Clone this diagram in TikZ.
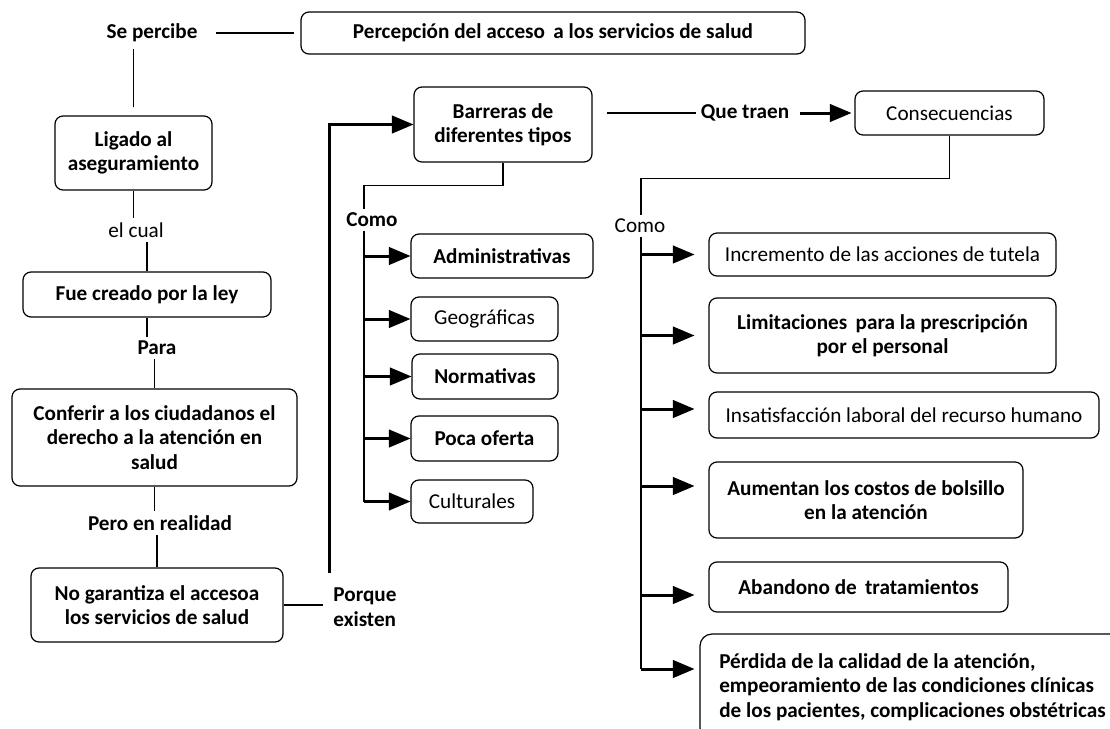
\documentclass[tikz,border=0pt]{standalone}
\usepackage{fontspec}
\setmainfont{Carlito}
\usetikzlibrary{arrows}

\begin{document}
\begin{tikzpicture}[x=0.5pt,y=-0.5pt,
  rg/.style={font=\fontsize{10.6}{12.2}\selectfont},
  bf/.style={font=\fontsize{10.6}{12.2}\selectfont\bfseries},
  box/.style={draw,rounded corners=4pt,align=center,inner sep=2pt,line width=0.6pt},
  lbl/.style={inner sep=2pt,align=left},
  ln/.style={line width=0.8pt},
  arr/.style={-triangle 45,line width=1.5pt}]
  \useasboundingbox (0,0) rectangle (1110,729);
  \clip (0,0) rectangle (1110,729);

  % left column
  \node[lbl,bf] (sep) at (152,33) {Se percibe};
  \node[box,bf,minimum width=252pt,minimum height=21pt] (perc) at (553,33) {Percepción del acceso\, a los servicios de salud};
  \node[box,bf,minimum width=78.5pt,minimum height=37pt] (lig) at (133.5,153) {Ligado al\\aseguramiento};
  \node[lbl,rg] (elc) at (136,230) {el cual};
  \node[box,bf,minimum width=124pt,minimum height=22.5pt] (fue) at (147,294.5) {Fue creado por la ley};
  \node[lbl,bf] (para) at (157,348) {Para};
  \node[box,bf,minimum width=142.5pt,minimum height=48.5pt] (conf) at (154.5,437.5) {Conferir a los ciudadanos el\\derecho a la atención en\\salud};
  \node[lbl,bf] (pero) at (160,523) {Pero en realidad};
  \node[box,bf,minimum width=126pt,minimum height=37pt] (nog) at (157,605) {No garantiza el accesoa\\los servicios de salud};
  \node[lbl,bf] (porq) at (365,607) {Porque\\existen};

  \draw[ln,shorten <=7pt,shorten >=3pt] (sep) -- (perc);
  \draw[ln,shorten <=4pt,shorten >=1pt] (lig.north) -- (lig.north |- sep.south);
  \draw[ln] (lig.south) -- (lig.south |- elc.north);
  \draw[ln] (fue.north) -- (fue.north |- elc.south);
  \draw[ln] (fue.south) -- (fue.south |- para.north);
  \draw[ln] (conf.north) -- (conf.north |- para.south);
  \draw[ln] (conf.south) -- (conf.south |- pero.north);
  \draw[ln] (nog.north) -- (nog.north |- pero.south);
  \draw[ln,shorten >=3pt] (nog.east) -- (nog.east -| porq.west);

  % barreras
  \node[box,bf,minimum width=89pt,minimum height=37.5pt] (barr) at (503,124.5) {Barreras de\\diferentes tipos};
  \node[lbl,bf] (como1) at (372,220) {Como};
  \coordinate (trunkA) at (364,0);
  \node[box,bf,minimum width=91pt,minimum height=22pt] (adm) at (502,256) {Administrativas};
  \node[box,rg,minimum width=73.5pt,minimum height=22pt] (geo) at (484.5,319) {Geográficas};
  \node[box,bf,minimum width=73pt,minimum height=22.5pt] (nor) at (485,376.5) {Normativas};
  \node[box,bf,minimum width=73.5pt,minimum height=22.5pt] (poc) at (484.5,438.5) {Poca oferta};
  \node[box,rg,minimum width=61pt,minimum height=21.5pt] (cul) at (472,501.5) {Culturales};

  \draw[arr,shorten <=5pt] (porq.north west) |- (barr);
  \draw[ln] (barr.south) -- ++(0,23) -| (trunkA |- como1.north);
  \draw[ln] (trunkA |- como1.south) -- (trunkA |- cul.west);
  \draw[arr] (trunkA |- adm.west) -- (adm.west);
  \draw[arr] (trunkA |- geo.west) -- (geo.west);
  \draw[arr] (trunkA |- nor.west) -- (nor.west);
  \draw[arr] (trunkA |- poc.west) -- (poc.west);
  \draw[arr] (trunkA |- cul.west) -- (cul.west);

  % consecuencias
  \node[lbl,bf] (que) at (745,113) {Que traen};
  \node[box,rg,minimum width=94.5pt,minimum height=22pt] (cons) at (949.5,113) {Consecuencias};
  \draw[ln,shorten <=7pt] (barr.east |- que) -- (que);
  \draw[arr,shorten <=3pt,shorten >=1.5pt] (que) -- (cons);

  \node[lbl,rg] (como2) at (640,226) {Como};
  \coordinate (trunkB) at (641,0);
  \node[box,rg,minimum width=173.5pt,minimum height=21.5pt] (inc) at (882.5,254.5) {Incremento de las acciones de tutela};
  \node[box,bf,minimum width=173.5pt,minimum height=37.5pt] (lim) at (882.5,335.5) {Limitaciones\, para la prescripción\\por el personal};
  \node[box,rg,minimum width=195pt,minimum height=23pt] (ins) at (904,415) {Insatisfacción laboral del recurso humano};
  \node[box,bf,minimum width=157pt,minimum height=38pt] (aum) at (866,500) {Aumentan los costos de bolsillo\\en la atención};
  \node[box,bf,minimum width=149.5pt,minimum height=25pt] (aba) at (858.5,587) {Abandono de\, tratamientos};
  \node[box,bf,rounded corners=6pt,align=left,minimum width=212.5pt,minimum height=53pt] (per) at (912.5,687) {Pérdida de la calidad de la atención,\\empeoramiento de las condiciones clínicas\\de los pacientes, complicaciones obstétricas};
  \coordinate (insIn) at ([yshift=3pt]ins.west);
  \coordinate (aumIn) at ([yshift=7pt]aum.west);
  \coordinate (abaIn) at ([yshift=-4pt]aba.west);
  \coordinate (perIn) at ([yshift=9pt]per.west);

  \draw[ln] (cons.south) -- ++(0,43) -| (trunkB |- como2.north);
  \draw[ln] (trunkB |- como2.south) -- (trunkB |- perIn);
  \draw[arr,shorten >=7pt] (trunkB |- inc.west) -- (inc.west);
  \draw[arr,shorten >=7pt] (trunkB |- lim.west) -- (lim.west);
  \draw[arr,shorten >=7pt] (trunkB |- insIn) -- (insIn);
  \draw[arr,shorten >=7pt] (trunkB |- aumIn) -- (aumIn);
  \draw[arr,shorten >=7pt] (trunkB |- abaIn) -- (abaIn);
  \draw[arr,shorten >=2.5pt] (trunkB |- perIn) -- (perIn);
\end{tikzpicture}
\end{document}
